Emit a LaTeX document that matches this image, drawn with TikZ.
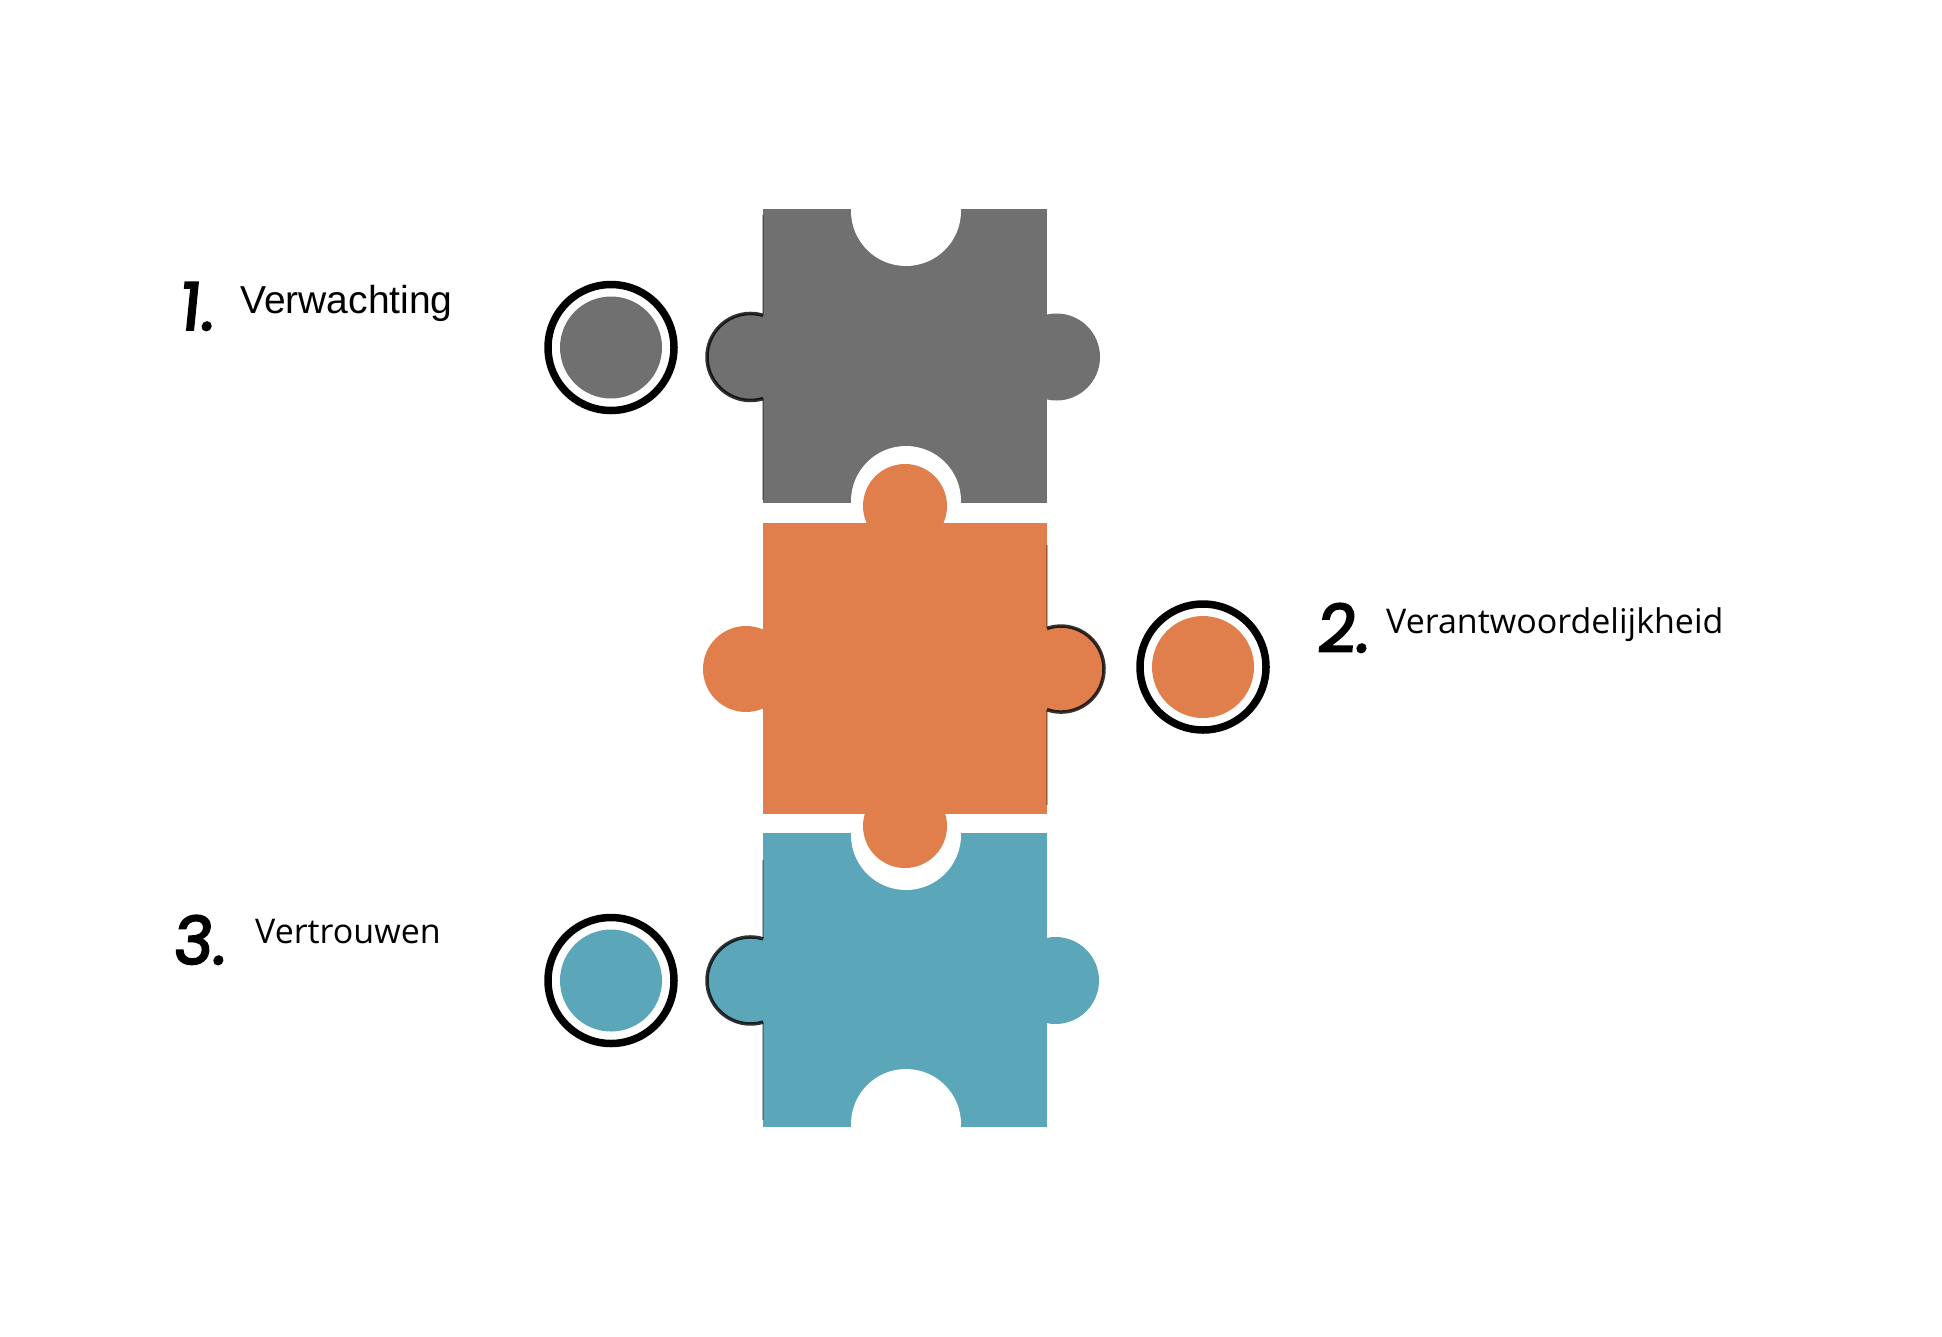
\documentclass[tikz,border=0pt]{standalone}
\usepackage{fontspec}
\setmainfont{Open Sans}
\newfontfamily\firstfont{Liberation Sans}
\newfontfamily\numfont{Poppins}[FakeSlant=0.1, FakeBold=3]

\definecolor{pzgray}{RGB}{112,112,112}
\definecolor{pzorange}{RGB}{224,127,76}
\definecolor{pzblue}{RGB}{91,167,185}

\begin{document}
\begin{tikzpicture}[x=1pt,y=-1pt,
	tabshade/.style={draw=black, line width=3.5pt, opacity=0.8},
	edgeshade/.style={draw=black, line width=1.2pt, opacity=0.3},
	ring/.style={draw=black, line width=7.5pt},
	numtext/.style={anchor=base west, inner sep=0pt, font=\numfont\fontsize{66}{66}\selectfont},
	labeltext/.style={anchor=base west, inner sep=0pt, font=\fontsize{34}{34}\selectfont}]

		\useasboundingbox (0,0) rectangle (1942,1336);

		\newcommand*{\xL}{763}%
		\newcommand*{\xR}{1047}%

		% pieces, notches cut out
		\begin{scope}
			\clip (\xL,209) rectangle (\xR,503);
			\fill[pzgray] (\xL,209) rectangle (\xR,503);
			\fill[white] (906,211) circle (55);
			\fill[white] (906,501) circle (55);
		\end{scope}
		\fill[pzorange] (\xL,523) rectangle (\xR,814);
		\begin{scope}
			\clip (\xL,833) rectangle (\xR,1127);
			\fill[pzblue] (\xL,833) rectangle (\xR,1127);
			\fill[white] (906,835) circle (55);
			\fill[white] (906,1124) circle (55);
		\end{scope}

		% tabs
		\foreach \cx/\cy/\r/\col in {750.5/357/43.5/pzgray, 1056.5/357/43.5/pzgray,
			746/669/43/pzorange, 1061/669/43/pzorange, 905/506/42/pzorange, 905/826/42/pzorange,
			750.5/980.5/43.5/pzblue, 1055.5/980.5/43.5/pzblue}{
			\fill[\col] (\cx,\cy) circle (\r);
		}

		% shading on some tabs
		\draw[tabshade] (763,315.3) arc[start angle=-73.3, end angle=-286.7, radius=43.5];
		\draw[tabshade] (1047,628.4) arc[start angle=-109, end angle=109, radius=43];
		\draw[tabshade] (763,938.8) arc[start angle=-73.3, end angle=-286.7, radius=43.5];
		\draw[edgeshade] (763,215) -- (763,315) (763,398) -- (763,500);
		\draw[edgeshade] (1047,545) -- (1047,628) (1047,710) -- (1047,805);
		\draw[edgeshade] (763,860) -- (763,939) (763,1022) -- (763,1120);

		% dots
		\foreach \cx/\cy/\col in {611/347.5/pzgray, 1203/667/pzorange, 611/980.5/pzblue}{
			\fill[\col] (\cx,\cy) circle (51);
			\draw[ring] (\cx,\cy) circle (63);
		}

		% labels
		\node[numtext] (num1) at (178,330) {1.};
		\node[anchor=base west, inner sep=0pt, font=\firstfont\fontsize{39}{39}\selectfont] (lab1) at (240,313) {Verwachting};
		\node[numtext] (num2) at (1316,652) {2.};
		\node[labeltext] (lab2) at (1386,633) {Verantwoordelijkheid};
		\node[numtext] (num3) at (172,964) {3.};
		\node[labeltext] (lab3) at (255,943) {Vertrouwen};

	\end{tikzpicture}
\end{document}
